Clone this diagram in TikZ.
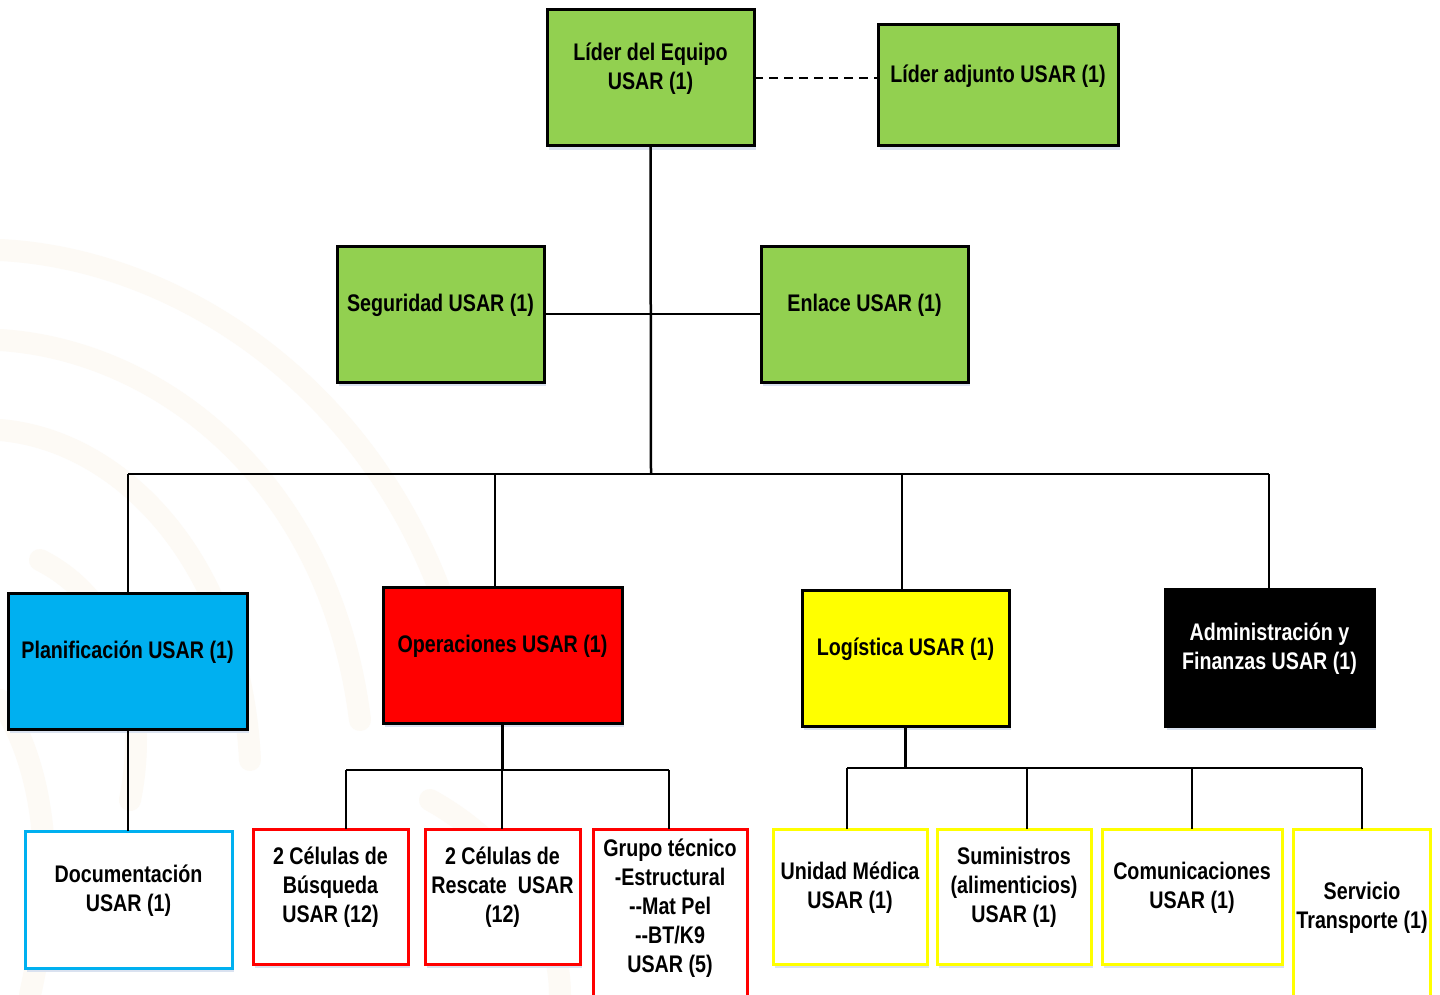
\documentclass[tikz,border=0pt]{standalone}
\usepackage{fontspec}
\setmainfont{Liberation Sans}[FakeStretch=0.82]
\definecolor{lgreen}{HTML}{92D050}
\definecolor{lcyan}{HTML}{00B0F0}
\definecolor{lred}{HTML}{FF0000}
\definecolor{lyellow}{HTML}{FFFF00}
\definecolor{shadowc}{RGB}{218,226,240}
\definecolor{wmark}{RGB}{253,250,245}
\begin{document}
\begin{tikzpicture}[x=1pt,y=-1pt,
  box/.style={rectangle, draw=black, line width=3pt, inner sep=0pt, outer sep=0pt, anchor=north west,
    preaction={draw=none, fill=shadowc, transform canvas={xshift=2pt,yshift=-4pt}}},
  txt/.style={align=center, font=\bfseries\fontsize{24}{29}\selectfont, text=black},
  lbl/.style={txt, yshift=9pt},
  wlbl/.style={lbl, text=white},
  conn/.style={draw=black, line width=2.5pt},
  thin/.style={draw=black, line width=2pt},
  dconn/.style={draw=black, line width=2pt, dash pattern=on 9pt off 6pt},
  wm/.style={draw=wmark, line width=22pt, line cap=round}]
\useasboundingbox (0,0) rectangle (1440,995);
\clip (0,0) rectangle (1440,995);
\fill[white] (0,0) rectangle (1440,995);
% faint watermark
\draw[wm] (0,250) .. controls (200,260) and (420,420) .. (470,700);
\draw[wm] (0,340) .. controls (160,350) and (330,480) .. (360,720);
\draw[wm] (0,430) .. controls (120,440) and (240,560) .. (250,760);
\draw[wm] (40,560) .. controls (120,600) and (150,700) .. (130,800);
\draw[wm] (0,700) .. controls (40,760) and (60,860) .. (30,995);
\draw[wm] (430,800) .. controls (520,850) and (560,930) .. (560,995);

% top
\node[box, fill=lgreen, minimum width=207pt, minimum height=136pt,
  label={[lbl, name=liderT]center:{Líder del Equipo\\USAR (1)}}] (lider) at (547,10) {};
\node[box, fill=lgreen, minimum width=240pt, minimum height=121pt,
  label={[lbl, name=adjT]center:{Líder adjunto USAR (1)}}] (adj) at (878,25) {};
\node[box, fill=lgreen, minimum width=207pt, minimum height=136pt,
  label={[lbl, name=segT]center:{Seguridad USAR (1)}}] (seg) at (337,246) {};
\node[box, fill=lgreen, minimum width=207pt, minimum height=136pt,
  label={[lbl, name=enlT]center:{Enlace USAR (1)}}] (enl) at (761,246) {};

% second level
\node[box, fill=lcyan, minimum width=239pt, minimum height=136pt,
  label={[lbl, name=planT]center:{Planificación USAR (1)}}] (plan) at (8,593) {};
\node[box, fill=lred, minimum width=239pt, minimum height=136pt,
  label={[lbl, name=opsT]center:{Operaciones USAR (1)}}] (ops) at (383,587) {};
\node[box, fill=lyellow, minimum width=207pt, minimum height=136pt,
  label={[lbl, name=logT]center:{Logística USAR (1)}}] (log) at (802,590) {};
\node[box, fill=black, minimum width=209pt, minimum height=137pt,
  label={[wlbl, name=admT]center:{Administración y\\Finanzas USAR (1)}}] (adm) at (1165,589) {};

% third level
\node[box, draw=lcyan, fill=white, minimum width=207pt, minimum height=137pt,
  label={[lbl, name=docT]center:{Documentación\\USAR (1)}}] (doc) at (25,831) {};
\node[box, draw=lred, fill=white, minimum width=155pt, minimum height=135pt,
  label={[lbl, name=busqT]center:{2 Células de\\Búsqueda\\USAR (12)}}] (busq) at (253,829) {};
\node[box, draw=lred, fill=white, minimum width=155pt, minimum height=135pt,
  label={[lbl, name=rescT]center:{2 Células de\\Rescate\ \ USAR\\(12)}}] (resc) at (425,829) {};
\node[box, draw=lred, fill=white, minimum width=154pt, minimum height=200pt] (grupo) at (593,829) {};
\node[txt, name=grupoT] at (670,908) {Grupo técnico\\-Estructural\\-{}-Mat Pel\\-{}-BT/K9\\USAR (5)};
\node[box, draw=lyellow, fill=white, minimum width=154pt, minimum height=135pt,
  label={[lbl, name=uniT]center:{Unidad Médica\\USAR (1)}}] (uni) at (773,829) {};
\node[box, draw=lyellow, fill=white, minimum width=154pt, minimum height=135pt,
  label={[lbl, name=sumT]center:{Suministros\\(alimenticios)\\USAR (1)}}] (sum) at (937,829) {};
\node[box, draw=lyellow, fill=white, minimum width=180pt, minimum height=135pt,
  label={[lbl, name=comT]center:{Comunicaciones\\USAR (1)}}] (com) at (1102,829) {};
\node[box, draw=lyellow, fill=white, minimum width=137pt, minimum height=200pt] (serv) at (1293,829) {};
\node[txt, name=servT] at (1362,908) {Servicio\\Transporte (1)};

% connectors top
\draw[dconn] (lider.east) -- (lider.east -| adj.west);
\draw[conn] (seg.east) -- (enl.west);
\coordinate (busL) at (128,474);
\coordinate (busR) at (1269,474);
\coordinate (busC) at (651,474);
\draw[conn] (lider.south) -- (busC);
\draw[conn] (busL) -- (busR);
\draw[thin] (busL) -- (busL |- plan.north);
\coordinate (busO) at (495,474);
\draw[thin] (busO) -- (busO |- ops.north);
\coordinate (busG) at (902,474);
\draw[thin] (busG) -- (busG |- log.north);
\draw[thin] (busR) -- (busR |- adm.north);

% planificacion
\draw[thin] (plan.south) -- (plan.south |- doc.north);

% operaciones
\coordinate (ob1) at (346,770);
\coordinate (ob2) at (502,770);
\coordinate (ob3) at (669,770);
\draw[conn] (ops.south) -- (ops.south |- ob2);
\draw[conn] (ob1) -- (ob3);
\draw[thin] (ob1) -- (ob1 |- busq.north);
\draw[thin] (ob2) -- (ob2 |- resc.north);
\draw[thin] (ob3) -- (ob3 |- grupo.north);

% logistica
\coordinate (lb1) at (847,768);
\coordinate (lb2) at (1027,768);
\coordinate (lb3) at (1192,768);
\coordinate (lb4) at (1362,768);
\draw[conn] (log.south) -- (log.south |- lb1);
\draw[conn] (lb1) -- (lb4);
\draw[thin] (lb1) -- (lb1 |- uni.north);
\draw[thin] (lb2) -- (lb2 |- sum.north);
\draw[thin] (lb3) -- (lb3 |- com.north);
\draw[thin] (lb4) -- (lb4 |- serv.north);
\end{tikzpicture}
\end{document}
